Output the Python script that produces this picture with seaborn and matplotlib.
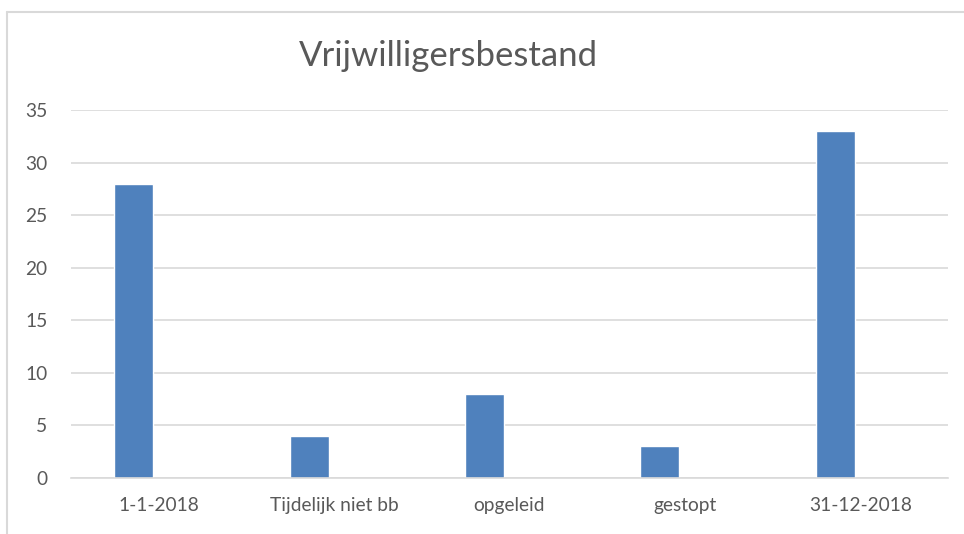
import pandas as pd
import matplotlib
matplotlib.use("Agg")
import matplotlib.pyplot as plt
import seaborn as sns
from matplotlib.lines import Line2D

categories = ["1-1-2018", "Tijdelijk niet bb", "opgeleid", "gestopt", "31-12-2018"]
waarden = [28, 4, 8, 3, 33]
leeg = [None, None, None, None, None]  # lege tweede reeks zoals in Excel
titel = "Vrijwilligersbestand"

TEKST = "#595959"
BALK = "#4F81BD"
GRID = "#D9D9D9"

df = pd.DataFrame({
    "categorie": categories * 2,
    "waarde": waarden + leeg,
    "reeks": ["a"] * 5 + ["b"] * 5,
})
df["waarde"] = df["waarde"].astype(float)

sns.set_style("white")
plt.rcParams["font.family"] = ["Lato", "DejaVu Sans"]

fig = plt.figure(figsize=(9.64, 5.34), dpi=100)
ax = fig.add_axes([71 / 964, 1 - 478 / 534, (948 - 71) / 964, (478 - 110) / 534])

sns.barplot(data=df, x="categorie", y="waarde", hue="reeks", order=categories,
            palette={"a": BALK, "b": BALK}, width=0.57, gap=0.22,
            legend=False, ax=ax, saturation=1)

ax.set_ylim(0, 35)
ax.set_yticks(range(0, 36, 5))
ax.set_xlim(-0.5, 4.5)
ax.yaxis.grid(True, color=GRID, linewidth=1.2)
ax.set_axisbelow(True)
for s in ["left", "right", "top"]:
    ax.spines[s].set_visible(False)
ax.spines["bottom"].set_color(GRID)
ax.spines["bottom"].set_linewidth(1.2)
ax.tick_params(axis="both", length=0, labelsize=13.8, colors=TEKST)
ax.tick_params(axis="y", pad=17)
ax.tick_params(axis="x", pad=14)
ax.set_xlabel("")
ax.set_ylabel("")

fig.text(448 / 964, 1 - 56 / 534, titel, ha="center", va="center",
         fontsize=25, color=TEKST)

# kader van de grafiek (links en boven)
fig.add_artist(Line2D([7 / 964, 7 / 964], [0, 1 - 12 / 534], color=GRID, linewidth=1.5))
fig.add_artist(Line2D([7 / 964, 1], [1 - 12 / 534, 1 - 12 / 534], color=GRID, linewidth=1.5))

fig.savefig("out.png", dpi=100)
